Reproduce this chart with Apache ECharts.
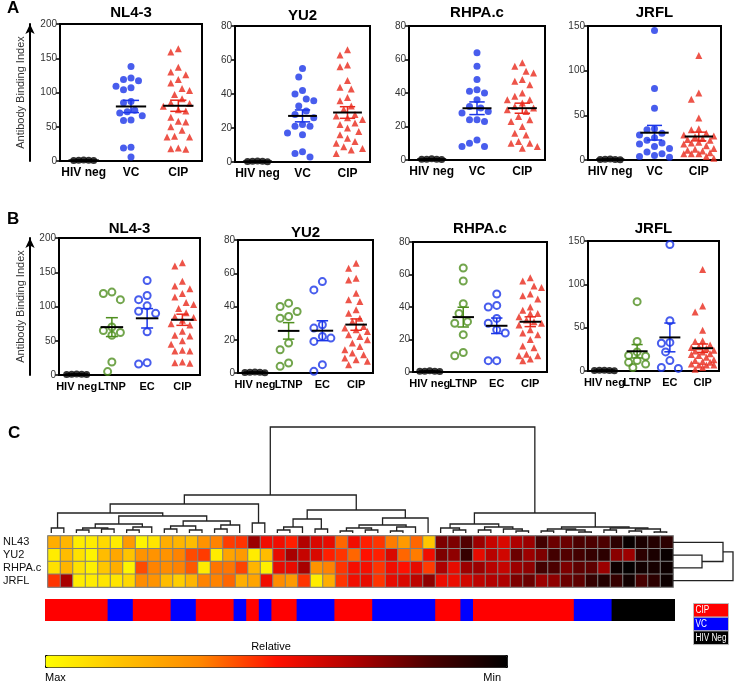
<!DOCTYPE html>
<html>
<head>
<meta charset="utf-8">
<script src="https://cdn.jsdelivr.net/npm/echarts@6/dist/echarts.min.js"></script>
<style>
  html, body { margin: 0; padding: 0; background: #fff; }
  #chart { width: 734px; height: 682px; }
</style>
</head>
<body>
<div id="chart"></div>
<script>
const FONT = '"Liberation Sans", Arial, Helvetica, sans-serif'

// ---- panels A / B : antibody binding index ----
const strains = ["NL4-3", "YU2", "RHPA.c", "JRFL"]
const yMaxes = [200, 80, 80, 150]
const yIntervals = [50, 20, 20, 50]
const catsA = ["HIV neg", "VC", "CIP"]
const catsB = ["HIV neg", "LTNP", "EC", "CIP"]

const negNL43 = [1.2, 0.8, 1.5, 0.6, 1.0]
const vcNL43 = [138, 121, 119, 117, 109, 107, 104, 87, 85, 74, 72, 70, 66, 60, 59, 20, 19, 6]
const cipNL43 = [164, 159, 137, 130, 126, 119, 114, 106, 103, 97, 91, 85, 84, 80, 75, 73, 64, 58, 57, 50, 45, 36, 35, 35, 18, 17, 19]
const ltnpNL43 = [121, 119, 110, 70, 65, 62, 58, 19, 5]
const ecNL43 = [138, 116, 110, 101, 93, 90, 63, 18, 16]

const negYU2 = [0.5, 0.3, 0.6, 0.2, 0.4]
const vcYU2 = [55, 50, 42, 40, 37, 36, 33, 30, 28, 26, 22, 21, 21, 17, 16, 6, 5, 3]
const cipYU2 = [66, 63, 57, 56, 48, 44, 43, 38, 36, 33, 31, 28, 27, 26, 25, 23, 22, 20, 18, 16, 14, 12, 11, 9, 8, 7, 5]
const ltnpYU2 = [42, 40, 37, 34, 33, 18, 14, 6, 4]
const ecYU2 = [55, 50, 29, 27, 22, 21, 19, 5, 1]

const negRHPA = [0.5, 0.4, 0.7, 0.3, 0.5]
const vcRHPA = [64, 56, 48, 42, 41, 40, 36, 32, 31, 29, 28, 24, 24, 23, 12, 10, 8, 8]
const cipRHPA = [58, 56, 53, 52, 48, 47, 45, 40, 38, 36, 36, 34, 32, 31, 30, 29, 26, 24, 23, 20, 16, 15, 11, 10, 10, 7, 8]
const ltnpRHPA = [64, 56, 42, 36, 31, 30, 23, 12, 10]
const ecRHPA = [48, 41, 40, 33, 30, 26, 24, 7, 7]

const negJRFL = [0.8, 0.5, 1.0, 0.4, 0.6]
const vcJRFL = [145, 80, 58, 35, 34, 30, 28, 25, 22, 19, 18, 15, 13, 9, 7, 5, 4, 3]
const cipJRFL = [117, 75, 68, 47, 35, 34, 30, 28, 27, 26, 24, 23, 22, 20, 19, 18, 16, 13, 12, 11, 10, 8, 7, 7, 7, 4, 2]
const ltnpJRFL = [80, 34, 22, 18, 17, 12, 10, 8, 4]
const ecJRFL = [146, 58, 33, 32, 22, 12, 4, 3]

// ---- panel C : heatmap (1 = max, 0 = min) ----
const heatRows = ["NL43", "YU2", "RHPA.c", "JRFL"]
const heatNL43 = [0.78, 0.80, 0.95, 0.95, 0.90, 0.95, 0.72, 0.97, 0.93, 0.78, 0.80, 0.82, 0.70, 0.66, 0.56, 0.55, 0.30, 0.47, 0.47, 0.52, 0.34, 0.42, 0.45, 0.62, 0.47, 0.52, 0.55, 0.65, 0.72, 0.62, 0.85, 0.25, 0.25, 0.18, 0.30, 0.38, 0.42, 0.33, 0.30, 0.15, 0.22, 0.22, 0.17, 0.17, 0.17, 0.10, 0.02, 0.06, 0.08, 0.10]
const heatYU2 = [0.95, 0.82, 0.92, 0.97, 0.82, 0.76, 0.84, 0.70, 0.70, 0.70, 0.66, 0.58, 0.56, 0.95, 0.75, 0.72, 0.95, 0.82, 0.45, 0.32, 0.38, 0.42, 0.52, 0.55, 0.62, 0.50, 0.52, 0.42, 0.62, 0.65, 0.47, 0.25, 0.28, 0.12, 0.45, 0.35, 0.40, 0.22, 0.30, 0.25, 0.15, 0.18, 0.15, 0.12, 0.10, 0.27, 0.30, 0.10, 0.06, 0.02]
const heatRHPA = [0.92, 0.80, 0.92, 0.96, 0.85, 0.78, 0.97, 0.58, 0.66, 0.68, 0.66, 0.60, 0.95, 0.64, 0.64, 0.57, 0.80, 0.96, 0.45, 0.45, 0.32, 0.70, 0.66, 0.55, 0.48, 0.48, 0.55, 0.47, 0.50, 0.45, 0.56, 0.33, 0.45, 0.30, 0.30, 0.35, 0.38, 0.30, 0.28, 0.15, 0.17, 0.25, 0.20, 0.20, 0.30, 0.03, 0.01, 0.04, 0.05, 0.03]
const heatJRFL = [0.55, 0.32, 0.95, 0.95, 0.93, 0.93, 0.90, 0.68, 0.70, 0.82, 0.87, 0.80, 0.66, 0.66, 0.62, 0.78, 0.75, 0.47, 0.68, 0.72, 0.55, 0.95, 0.78, 0.55, 0.47, 0.45, 0.55, 0.45, 0.42, 0.36, 0.28, 0.46, 0.46, 0.40, 0.36, 0.34, 0.33, 0.25, 0.22, 0.30, 0.28, 0.22, 0.20, 0.12, 0.08, 0.12, 0.04, 0.16, 0.10, 0.03]
// sample group per column: 0 CIP, 1 VC, 2 HIV Neg
const sampleGroup = [0,0,0,0,0, 1,1, 0,0,0, 1,1, 0,0,0, 1, 0, 1, 0,0, 1,1,1, 0,0,0, 1,1,1,1,1, 0,0, 1, 0,0,0,0,0,0,0,0, 1,1,1, 2,2,2,2,2]
const groupNames = ["CIP", "VC", "HIV Neg"]
const groupColors = ["#ff0000", "#0000ff", "#000000"]
const heatColors = ["#000000", "#4a0000", "#b00000", "#ff1000", "#ff8800", "#ffc000", "#ffff00"]

// column dendrogram: [height, left, right], leaves are column indices
const colTree = [106,
	[38,
		[29,
			[20, [5, 0, 1],
				[17,
					[9, [5, [3, 2, 3], [4, 4, 5]], [6, [3, 6, 7], 8]],
					[12, [7, [4, 9, 10], [3, 11, 12]], [8, [4, 13, 14], 15]]]],
			[10, 16, 17]],
		[23,
			[14, [6, [3, 18, 19], 20], [4, 21, 22]],
			[15, [8, [5, [2, 23, 24], [3, 25, 26]], [6, [2, 27, 28], 29]], 30]]],
	[20,
		[9, [5, 31, [3, 32, 33]], [6, [3, 34, 35], [4, 36, [2, 37, 38]]]],
		[6, [4, [2, 39, 40], [3, 41, [1, 42, 43]]], [5, [3, 44, 45], [4, [2, 46, 47], [1, 48, 49]]]]]]
// row dendrogram
const rowTree = [60, [50, 0, [29, 1, 2]], 3]

const chart = echarts.init(document.getElementById("chart"))
const grids = [], xAxes = [], yAxes = [], series = [], titles = []

const stats = (v) => {
	const n = v.length
	const m = v.reduce((a, b) => a + b, 0) / n
	const sd = Math.sqrt(v.reduce((a, b) => a + (b - m) * (b - m), 0) / (n - 1))
	return [m, sd / Math.sqrt(n)]
}

// simple beeswarm so points with close values sit side by side (spread capped)
const swarm = (vals, yMax, hPx, catW, d) => {
	const cap = catW * 0.36
	const order = vals.map((v, i) => i).sort((a, b) => vals[b] - vals[a])
	const placed = []
	const off = []
	order.forEach((i) => {
		const y = (vals[i] / yMax) * hPx
		let best = null, bestDist = -1
		for (let k = 0; k < 40; k++) {
			const s = k === 0 ? 0 : k % 2 ? -Math.ceil(k / 2) : Math.ceil(k / 2)
			const x = s * d * 0.5
			if (Math.abs(x) > cap) break
			const dist = placed.reduce((mn, p) => Math.min(mn, Math.hypot(p[0] - x, (p[1] - y) * 0.8)), Infinity)
			if (dist >= d * 0.95) { best = x; break }
			if (dist > bestDist) { bestDist = dist; best = x }
		}
		placed.push([best, y])
		off[i] = best / catW
	})
	return off
}

const addPanel = (rect, cats, groups, yMax, yInt, title, titleTop, arrow, labelSize) => {
	const gi = grids.length
	grids.push(Object.assign({ show: true, borderColor: "#000", borderWidth: 2 }, rect))
	xAxes.push({
		gridIndex: gi, type: "category", data: cats, boundaryGap: true,
		axisLine: { lineStyle: { color: "#000", width: 2 } },
		axisTick: { alignWithLabel: true, length: 4, lineStyle: { color: "#000", width: 1.5 } },
		axisLabel: { interval: 0, color: "#000", fontWeight: "bold", fontSize: labelSize, margin: 6, fontFamily: FONT },
		splitLine: { show: false },
	})
	const xv = xAxes.length
	xAxes.push({ gridIndex: gi, type: "value", min: 0, max: cats.length, show: false })
	const yi = yAxes.length
	yAxes.push({
		gridIndex: gi, type: "value", min: 0, max: yMax, interval: yInt,
		axisLine: { show: true, lineStyle: { color: "#000", width: 2 } },
		axisTick: { show: true, length: 4, lineStyle: { color: "#000", width: 1.5 } },
		axisLabel: { fontSize: 10, color: "#333", margin: 3, fontFamily: FONT },
		splitLine: { show: false },
	})
	if (arrow) {
		yAxes.push({
			gridIndex: gi, type: "value", min: 0, max: 1, position: "left", offset: rect.left - 30,
			axisLine: { show: true, symbol: ["none", "arrow"], symbolSize: [7, 10], lineStyle: { color: "#000", width: 2 } },
			axisTick: { show: false }, axisLabel: { show: false }, splitLine: { show: false },
			name: "Antibody Binding Index", nameLocation: "middle", nameGap: 4, nameRotate: 90,
			nameTextStyle: { fontSize: 11, color: "#333", fontFamily: FONT },
		})
	}
	titles.push({
		text: title, left: rect.left + rect.width / 2, top: titleTop, textAlign: "center", padding: 0,
		textStyle: { fontSize: 15, fontWeight: "bold", color: "#000", fontFamily: FONT },
	})
	const catW = rect.width / cats.length
	const bars = []
	groups.forEach((g, k) => {
		const off = swarm(g.vals, yMax, rect.height, catW, g.d)
		series.push({
			type: "scatter", xAxisIndex: xv, yAxisIndex: yi, symbol: g.symbol, symbolSize: g.size,
			itemStyle: g.open ? { color: "rgba(0,0,0,0)", borderColor: g.color, borderWidth: 2 } : { color: g.color },
			data: g.vals.map((v, i) => [k + 0.5 + off[i], v]), z: 2, silent: true,
		})
		const [m, s] = stats(g.vals)
		bars.push([k + 0.5, m, s, k])
	})
	const cols = groups.map((g) => g.color)
	series.push({
		type: "custom", xAxisIndex: xv, yAxisIndex: yi, data: bars, encode: { x: 0, y: 1 }, z: 3, silent: true,
		renderItem: (params, api) => {
			const c = api.value(0), m = api.value(1), s = api.value(2)
			const col = cols[api.value(3)]
			const p = (x, y) => api.coord([x, y])
			const seg = (a, b, color, w) => ({
				type: "line", shape: { x1: a[0], y1: a[1], x2: b[0], y2: b[1] },
				style: { stroke: color, lineWidth: w },
			})
			return {
				type: "group",
				children: [
					seg(p(c, m - s), p(c, m + s), col, 1.5),
					seg(p(c - 0.17, m + s), p(c + 0.17, m + s), col, 1.5),
					seg(p(c - 0.17, m - s), p(c + 0.17, m - s), col, 1.5),
					seg(p(c - 0.32, m), p(c + 0.32, m), "#000", 2),
				],
			}
		},
	})
}

const NEG = { color: "#000", symbol: "circle", size: 7, d: 5 }
const VC = { color: "#1a35e8", symbol: "circle", size: 7, d: 7.5 }
const CIP = { color: "#e8291c", symbol: "triangle", size: 7, d: 7.5 }
const LTNP = { color: "#4f8f1f", symbol: "circle", size: 7, d: 8.5, open: true }
const EC = { color: "#1a35e8", symbol: "circle", size: 7, d: 8.5, open: true }
const g = (style, vals) => Object.assign({ vals }, style)

const negs = [negNL43, negYU2, negRHPA, negJRFL]
const vcs = [vcNL43, vcYU2, vcRHPA, vcJRFL]
const cips = [cipNL43, cipYU2, cipRHPA, cipJRFL]
const ltnps = [ltnpNL43, ltnpYU2, ltnpRHPA, ltnpJRFL]
const ecs = [ecNL43, ecYU2, ecRHPA, ecJRFL]

const rectsA = [
	{ left: 60, top: 24, width: 142, height: 137 },
	{ left: 235, top: 26, width: 135, height: 136 },
	{ left: 409, top: 26, width: 136, height: 134 },
	{ left: 588, top: 26, width: 133, height: 134 },
]
const titleTopA = [5, 8, 5, 5]
const rectsB = [
	{ left: 59, top: 238, width: 141, height: 137 },
	{ left: 238, top: 240, width: 135, height: 133 },
	{ left: 413, top: 242, width: 134, height: 130 },
	{ left: 588, top: 241, width: 131, height: 130 },
]
const titleTopB = [221, 225, 221, 221]

strains.forEach((s, i) => {
	addPanel(rectsA[i], catsA, [g(NEG, negs[i]), g(VC, vcs[i]), g(CIP, cips[i])],
		yMaxes[i], yIntervals[i], s, titleTopA[i], i === 0, 12)
})
strains.forEach((s, i) => {
	addPanel(rectsB[i], catsB, [g(NEG, negs[i]), g(LTNP, ltnps[i]), g(EC, ecs[i]), g(CIP, cips[i])],
		yMaxes[i], yIntervals[i], s, titleTopB[i], i === 0, 11)
})

// ---- panel C ----
const nCols = heatNL43.length
const colIdx = heatNL43.map((v, i) => String(i))

// heatmap
const hg = grids.length
grids.push({ left: 45, top: 536, width: 628, height: 51, show: true, borderColor: "#808080", borderWidth: 1.5 })
const hx = xAxes.length
xAxes.push({ gridIndex: hg, type: "category", data: colIdx, show: false })
const hy = yAxes.length
yAxes.push({
	gridIndex: hg, type: "category", data: heatRows, inverse: true,
	axisLine: { show: false }, axisTick: { show: false }, splitLine: { show: false },
	axisLabel: { interval: 0, align: "left", margin: 45, fontSize: 11, color: "#111", fontFamily: FONT },
})
const heatData = []
;[heatNL43, heatYU2, heatRHPA, heatJRFL].forEach((row, r) => {
	row.forEach((v, c) => heatData.push([c, r, v]))
})
const heatSeriesIndex = series.length
series.push({
	type: "heatmap", xAxisIndex: hx, yAxisIndex: hy, data: heatData, silent: true,
	itemStyle: { borderColor: "#808080", borderWidth: 1 },
})

// column dendrogram
const layoutTree = (node, out) => {
	if (typeof node === "number") return { pos: node + 0.5, h: 0 }
	const a = layoutTree(node[1], out)
	const b = layoutTree(node[2], out)
	out.push([a.pos, a.h, b.pos, b.h, node[0]])
	return { pos: (a.pos + b.pos) / 2, h: node[0] }
}
const colLinks = []
layoutTree(colTree, colLinks)
const dg = grids.length
grids.push({ left: 45, top: 427, width: 628, height: 106 })
const dx = xAxes.length
xAxes.push({ gridIndex: dg, type: "value", min: 0, max: nCols, show: false })
const dy = yAxes.length
yAxes.push({ gridIndex: dg, type: "value", min: 0, max: colTree[0], show: false })
series.push({
	type: "custom", xAxisIndex: dx, yAxisIndex: dy, data: colLinks, encode: { x: [0, 2], y: [1, 3, 4] }, silent: true,
	renderItem: (params, api) => {
		const p = (x, y) => api.coord([x, y])
		const xl = api.value(0), hl = api.value(1), xr = api.value(2), hr = api.value(3), h = api.value(4)
		return {
			type: "polyline",
			shape: { points: [p(xl, hl), p(xl, h), p(xr, h), p(xr, hr)] },
			style: { stroke: "#222", lineWidth: 1.3, fill: null },
		}
	},
})

// row dendrogram
const rowLinks = []
layoutTree(rowTree, rowLinks)
const rg = grids.length
grids.push({ left: 673, top: 536, width: 60, height: 51 })
const rx = xAxes.length
xAxes.push({ gridIndex: rg, type: "value", min: 0, max: rowTree[0], show: false })
const ry = yAxes.length
yAxes.push({ gridIndex: rg, type: "value", min: 0, max: heatRows.length, inverse: true, show: false })
series.push({
	type: "custom", xAxisIndex: rx, yAxisIndex: ry, data: rowLinks, encode: { x: [1, 3, 4], y: [0, 2] }, silent: true,
	renderItem: (params, api) => {
		const p = (h, y) => api.coord([h, y])
		const yl = api.value(0), hl = api.value(1), yr = api.value(2), hr = api.value(3), h = api.value(4)
		return {
			type: "polyline",
			shape: { points: [p(hl, yl), p(h, yl), p(h, yr), p(hr, yr)] },
			style: { stroke: "#222", lineWidth: 1.3, fill: null },
		}
	},
})

// sample group bar
const bg = grids.length
grids.push({ left: 45, top: 599, width: 630, height: 22 })
const bx = xAxes.length
xAxes.push({ gridIndex: bg, type: "category", data: colIdx, show: false })
const by = yAxes.length
yAxes.push({ gridIndex: bg, type: "value", min: 0, max: 1, show: false })
series.push({
	type: "bar", xAxisIndex: bx, yAxisIndex: by, barWidth: 13.4, silent: true,
	data: sampleGroup.map((k) => ({ value: 1, itemStyle: { color: groupColors[k] } })),
})

// legend boxes for sample groups
const legendGraphics = groupNames.map((name, i) => ({
	type: "group", left: 693, top: 603 + i * 13.7,
	children: [
		{ type: "rect", shape: { x: 0, y: 0, width: 35, height: 13.7 }, style: { fill: groupColors[i], stroke: "#bbb", lineWidth: 1 } },
		{ type: "text", x: 2, y: 7, scaleX: 0.82, style: { text: name, fill: "#fff", fontSize: 10, fontFamily: FONT, verticalAlign: "middle" } },
	],
}))

const txt = (text, x, y, size, bold, align) => ({
	type: "text", x, y,
	style: { text, fontSize: size, fontWeight: bold ? "bold" : "normal", fill: "#000", fontFamily: FONT, align: align || "left" },
})

chart.setOption({
	animation: false,
	title: titles,
	grid: grids,
	xAxis: xAxes,
	yAxis: yAxes,
	visualMap: {
		type: "continuous", min: 0, max: 1, seriesIndex: heatSeriesIndex,
		orient: "horizontal", inverse: true, left: 45, top: 655,
		itemWidth: 12, itemHeight: 462, calculable: false, padding: 0,
		text: null, showLabel: false, hoverLink: false,
		borderColor: "#000", borderWidth: 1,
		inRange: { color: heatColors },
	},
	graphic: [
		txt("A", 7, 0, 17, true),
		txt("B", 7, 211, 17, true),
		txt("C", 8, 425, 17, true),
		txt("Relative", 271, 641, 11, false, "center"),
		txt("Max", 45, 672, 11, false),
		txt("Min", 501, 672, 11, false, "right"),
	].concat(legendGraphics),
	series,
})
</script>
</body>
</html>
